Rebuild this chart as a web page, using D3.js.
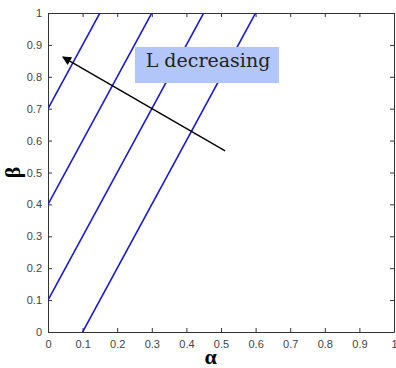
<!DOCTYPE html>
<html>
<head>
<meta charset="utf-8">
<script src="https://cdn.jsdelivr.net/npm/d3@7"></script>
<style>
  body { margin: 0; background: #fff; }
  .axis text { font-family: Arial, "Liberation Sans", sans-serif; font-size: 11px; fill: #444; }
  .axis path, .axis line { stroke: #333; }
</style>
</head>
<body>
<div id="chart"></div>
<script>
// line family: beta = slope * alpha + intercept
const slope = 2;
const intercepts = [0.7, 0.4, 0.1, -0.2];
const xTicks = [0, 0.1, 0.2, 0.3, 0.4, 0.5, 0.6, 0.7, 0.8, 0.9, 1];
const yTicks = [0, 0.1, 0.2, 0.3, 0.4, 0.5, 0.6, 0.7, 0.8, 0.9, 1];
const arrowFrom = [0.512, 0.568];
const arrowTo = [0.043, 0.862];
const annotation = 'L decreasing';

const W = 396, H = 368;
const margin = {top: 13, right: 2, bottom: 36, left: 48};
const width = W - margin.left - margin.right;
const height = H - margin.top - margin.bottom;

const svg = d3.select('#chart').append('svg')
  .attr('width', W).attr('height', H);

const defs = svg.append('defs');
defs.append('clipPath').attr('id', 'clip')
  .append('rect').attr('width', width).attr('height', height);
defs.append('marker')
  .attr('id', 'head')
  .attr('viewBox', '0 0 10 10')
  .attr('refX', 9).attr('refY', 5)
  .attr('markerWidth', 11).attr('markerHeight', 9)
  .attr('markerUnits', 'userSpaceOnUse')
  .attr('orient', 'auto')
  .append('path').attr('d', 'M0,0L10,5L0,10z').attr('fill', '#000');

const g = svg.append('g').attr('transform', `translate(${margin.left},${margin.top})`);

const x = d3.scaleLinear().domain([0, 1]).range([0, width]);
const y = d3.scaleLinear().domain([0, 1]).range([height, 0]);

const fmt = d => d === 0 || d === 1 ? String(d) : d3.format('.1f')(d);

g.append('g').attr('class', 'axis')
  .attr('transform', `translate(0,${height})`)
  .call(d3.axisBottom(x).tickValues(xTicks).tickFormat(fmt).tickSizeInner(-4).tickSizeOuter(0).tickPadding(8));
g.append('g').attr('class', 'axis')
  .call(d3.axisLeft(y).tickValues(yTicks).tickFormat(fmt).tickSizeInner(-4).tickSizeOuter(0).tickPadding(6));
g.append('g').attr('class', 'axis')
  .call(d3.axisTop(x).tickValues(xTicks).tickFormat('').tickSizeInner(-4).tickSizeOuter(0));
g.append('g').attr('class', 'axis')
  .attr('transform', `translate(${width},0)`)
  .call(d3.axisRight(y).tickValues(yTicks).tickFormat('').tickSizeInner(-4).tickSizeOuter(0));

const line = d3.line().x(d => x(d[0])).y(d => y(d[1]));
g.append('g').attr('clip-path', 'url(#clip)')
  .selectAll('path.iso')
  .data(intercepts)
  .join('path')
  .attr('class', 'iso')
  .attr('d', c => line([[0, c], [1, slope + c]]))
  .attr('fill', 'none')
  .attr('stroke', '#1a1acc')
  .attr('stroke-width', 1.6);

g.append('line')
  .attr('x1', x(arrowFrom[0])).attr('y1', y(arrowFrom[1]))
  .attr('x2', x(arrowTo[0])).attr('y2', y(arrowTo[1]))
  .attr('stroke', '#000').attr('stroke-width', 1.4)
  .attr('marker-end', 'url(#head)');

// annotation box
g.append('rect')
  .attr('x', 135 - margin.left).attr('y', 47 - margin.top)
  .attr('width', 144).attr('height', 36)
  .attr('fill', '#b3c6fa');
g.append('text')
  .attr('x', 208 - margin.left).attr('y', 67 - margin.top)
  .attr('text-anchor', 'middle')
  .attr('font-family', '"DejaVu Serif", serif')
  .attr('font-size', 19)
  .attr('fill', '#222')
  .text(annotation);

// axis titles
svg.append('text')
  .attr('x', margin.left + x(0.47)).attr('y', 364)
  .attr('text-anchor', 'middle')
  .attr('font-family', '"Liberation Serif", serif')
  .attr('font-weight', 'bold').attr('font-size', 22)
  .text('α');
svg.append('text')
  .attr('transform', `translate(20,${margin.top + y(0.5)}) rotate(-90)`)
  .attr('text-anchor', 'middle')
  .attr('font-family', '"Liberation Serif", serif')
  .attr('font-weight', 'bold').attr('font-size', 22)
  .text('β');
</script>
</body>
</html>
